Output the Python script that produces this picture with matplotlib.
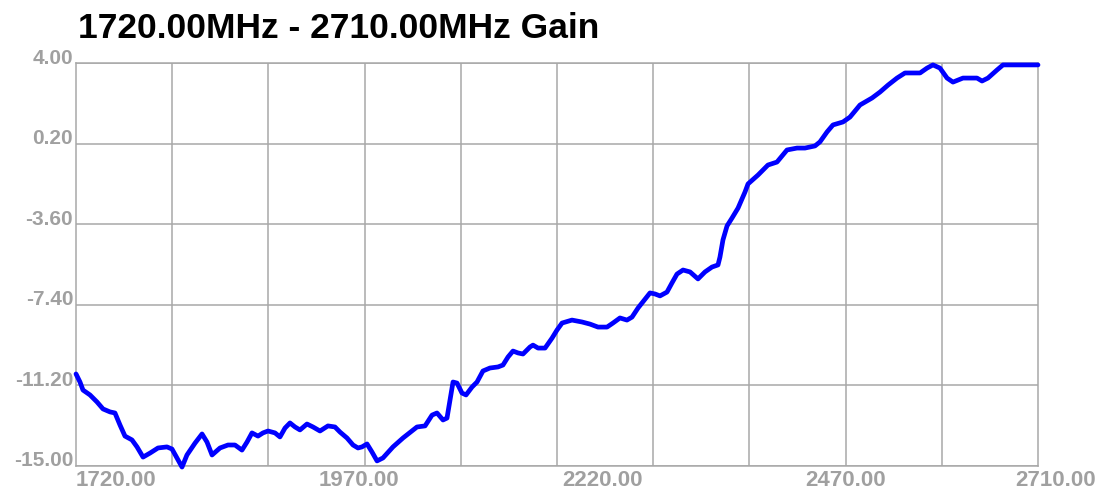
import numpy as np
import matplotlib
matplotlib.use("Agg")
import matplotlib.pyplot as plt
from matplotlib.transforms import ScaledTranslation

# frequency (MHz) and gain (dB)
freq = [1720.0, 1724.1, 1727.2, 1734.4, 1741.6, 1747.8, 1755.0, 1760.1, 1765.3, 1770.4,
        1777.6, 1782.8, 1789.0, 1796.2, 1804.4, 1813.6, 1818.8, 1823.9, 1829.1, 1834.2,
        1842.5, 1849.7, 1854.8, 1860.0, 1868.2, 1876.4, 1883.6, 1890.8, 1896.0, 1901.1,
        1907.3, 1912.4, 1917.6, 1924.8, 1929.9, 1935.1, 1940.2, 1945.4, 1950.5, 1957.7,
        1963.9, 1971.1, 1979.3, 1986.5, 1991.7, 1998.9, 2005.1, 2010.2, 2014.3, 2019.5,
        2024.6, 2029.8, 2035.9, 2046.2, 2056.5, 2070.9, 2079.2, 2086.4, 2091.5, 2097.7,
        2101.8, 2104.9, 2108.0, 2112.1, 2117.2, 2121.4, 2127.5, 2132.7, 2138.8, 2146.0,
        2154.3, 2159.4, 2164.6, 2169.7, 2174.9, 2180.0, 2187.2, 2190.3, 2195.5, 2202.7,
        2209.9, 2215.0, 2220.2, 2230.4, 2240.7, 2249.0, 2257.2, 2266.5, 2272.6, 2279.8,
        2287.0, 2292.2, 2298.4, 2305.6, 2310.7, 2315.9, 2321.0, 2328.2, 2333.3, 2338.5,
        2344.7, 2351.9, 2360.1, 2367.3, 2374.5, 2380.7, 2382.7, 2385.8, 2390.0, 2395.1,
        2401.3, 2408.5, 2411.6, 2421.9, 2432.1, 2441.4, 2451.7, 2462.0, 2470.2, 2480.5,
        2485.6, 2492.9, 2499.0, 2509.3, 2516.5, 2526.8, 2539.2, 2547.4, 2555.7, 2564.9,
        2573.1, 2588.6, 2595.8, 2601.9, 2609.1, 2616.4, 2622.5, 2632.8, 2647.2, 2652.4,
        2658.5, 2667.8, 2674.0, 2684.3, 2710.0]
gain = [-10.66, -11.04, -11.42, -11.65, -11.98, -12.31, -12.45, -12.50, -13.07, -13.59,
        -13.77, -14.10, -14.58, -14.39, -14.15, -14.10, -14.20, -14.62, -15.05, -14.48,
        -13.92, -13.49, -13.87, -14.48, -14.15, -14.01, -14.01, -14.25, -13.87, -13.44,
        -13.59, -13.44, -13.35, -13.44, -13.63, -13.21, -12.97, -13.16, -13.30, -13.02,
        -13.16, -13.35, -13.11, -13.16, -13.40, -13.68, -14.01, -14.15, -14.10, -13.96,
        -14.34, -14.76, -14.62, -14.10, -13.68, -13.16, -13.11, -12.60, -12.50, -12.83,
        -12.74, -11.89, -11.04, -11.09, -11.56, -11.65, -11.28, -11.04, -10.52, -10.38,
        -10.33, -10.24, -9.86, -9.58, -9.67, -9.72, -9.39, -9.30, -9.44, -9.44,
        -8.97, -8.59, -8.26, -8.12, -8.21, -8.31, -8.45, -8.45, -8.26, -8.02,
        -8.12, -7.98, -7.55, -7.13, -6.84, -6.89, -6.98, -6.80, -6.37, -5.95,
        -5.76, -5.85, -6.18, -5.85, -5.62, -5.52, -5.15, -4.34, -3.68, -3.31,
        -2.84, -2.08, -1.70, -1.28, -0.81, -0.67, -0.10, -0.01, -0.01, 0.09,
        0.28, 0.75, 1.08, 1.22, 1.45, 2.02, 2.35, 2.63, 2.96, 3.29,
        3.53, 3.53, 3.76, 3.91, 3.76, 3.29, 3.10, 3.29, 3.29, 3.15,
        3.29, 3.67, 3.91, 3.91, 3.91]

x_labels = [1720, 1970, 2220, 2470, 2710]
y_ticks = [4.00, 0.20, -3.60, -7.40, -11.20, -15.00]
f_start, f_stop = 1720, 2710
title = "1720.00MHz - 2710.00MHz Gain"

grey = "#a0a0a0"
plt.rcParams['font.family'] = ['Liberation Sans', 'DejaVu Sans']

fig = plt.figure(figsize=(11.02, 4.93), dpi=100)
ax = fig.add_axes([76 / 1102, 1 - 466 / 493, (1038 - 76) / 1102, (466 - 63) / 493])

ax.plot(freq, gain, color="#0000ff", lw=3.4, clip_on=False, zorder=3,
        solid_joinstyle="round", solid_capstyle="round")

ax.set_xlim(f_start, f_stop)
ax.set_ylim(min(y_ticks), max(y_ticks))

# grid every tenth of the span, labels every 250 MHz
ax.set_xticks(np.linspace(f_start, f_stop, 11), minor=True)
ax.set_xticks(x_labels)
ax.set_xticklabels(["%.2f" % v for v in x_labels], fontsize=16,
                   fontweight="bold", color=grey, ha="left")
ax.set_yticks(y_ticks)
ax.set_yticklabels(["%.2f" % v for v in y_ticks], fontsize=15,
                   fontweight="bold", color=grey, va="center")
ax.tick_params(axis="both", which="both", length=0)
ax.tick_params(axis="x", pad=3)
ax.tick_params(axis="y", pad=2)
ax.grid(True, which="minor", axis="x", color="#a8a8a8", lw=1.1)
ax.grid(True, which="major", axis="y", color="#a8a8a8", lw=1.1)
ax.set_axisbelow(True)
for s in ax.spines.values():
    s.set_color("#a8a8a8")
    s.set_linewidth(1.1)

# nudge labels like the original instrument software
for lab in ax.get_yticklabels():
    lab.set_transform(lab.get_transform() + ScaledTranslation(0, 5 / 100, fig.dpi_scale_trans))
xl = ax.get_xticklabels()
xl[-1].set_transform(xl[-1].get_transform() + ScaledTranslation(-23 / 100, 0, fig.dpi_scale_trans))

fig.text(78 / 1102, 1 - 38 / 493, title, fontsize=25.5, fontweight="bold",
         color="black", ha="left", va="baseline")

fig.savefig("out.png", dpi=100)
